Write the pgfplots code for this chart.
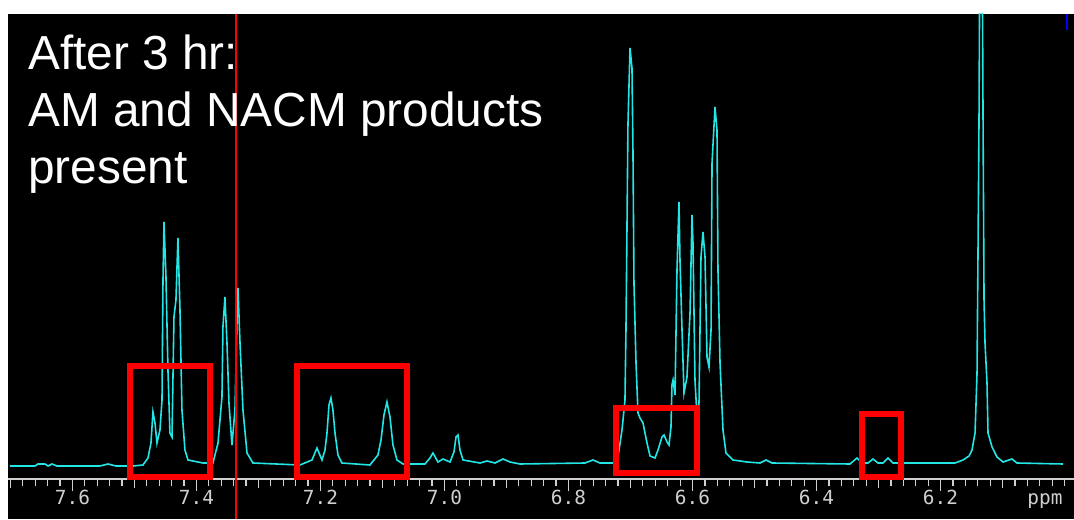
\documentclass[border=0pt]{standalone}
\usepackage{fontspec}
\setmainfont{Liberation Sans}
\setmonofont{DejaVu Sans Mono}
\usepackage{pgfplots}
\pgfplotsset{compat=1.18}
\definecolor{spec}{HTML}{22E6E6}
\definecolor{rulergray}{HTML}{D0D0D0}

\begin{document}
\begin{tikzpicture}
% page: white margin at left and top, black plot field
\fill[white] (-4pt,-20pt) rectangle (533pt,239.5pt);
\fill[black] (0pt,-20pt) rectangle (533pt,232.5pt);
\begin{axis}[
    scale only axis,
    width=533pt, height=232.5pt,
    xmin=5.9847, xmax=7.7040, x dir=reverse,
    ymin=-13, ymax=452,
    axis x line*=bottom, axis y line=none,
    x axis line style={draw=rulergray, line width=0.6pt},
    clip mode=individual,
    xtick={7.6,7.4,7.2,7.0,6.8,6.6,6.4,6.2},
    xticklabels={7.6,7.4,7.2,7.0,6.8,6.6,6.4,6.2},
    minor xtick={7.70,7.68,...,5.99},
    extra x ticks={7.7,7.5,7.3,7.1,6.9,6.7,6.5,6.3,6.1},
    extra x tick labels={},
    extra x tick style={major tick length=4.5pt},
    tick align=outside,
    major tick length=6pt, minor tick length=3.5pt,
    every tick/.style={draw=rulergray, line width=0.6pt},
    xticklabel style={text=rulergray, font=\ttfamily\fontsize{9.7}{11}\selectfont, yshift=4pt},
]
\addplot[spec, line width=0.8pt] coordinates {
(7.7008,0) (7.6605,0) (7.6557,2) (7.6444,2) (7.6395,0) (7.6330,2) (7.6250,0)
(7.5557,0) (7.5427,2) (7.5299,0) (7.5024,0) (7.4863,1) (7.4782,8) (7.4734,23)
(7.4702,54) (7.4669,43) (7.4637,23) (7.4589,36) (7.4556,66) (7.4540,186)
(7.4524,244) (7.4492,189) (7.4460,96) (7.4428,33) (7.4395,29) (7.4363,149)
(7.4331,166) (7.4299,228) (7.4266,156) (7.4234,56) (7.4186,16) (7.4137,6)
(7.3895,3) (7.3734,3) (7.3653,23) (7.3589,69) (7.3573,139) (7.3541,169)
(7.3508,123) (7.3476,63) (7.3428,21) (7.3379,56) (7.3347,143) (7.3331,178)
(7.3298,123) (7.3250,56) (7.3185,13) (7.3089,3) (7.2331,1) (7.2137,6)
(7.2057,18) (7.1976,6) (7.1927,16) (7.1895,33) (7.1863,61) (7.1831,68)
(7.1799,56) (7.1766,33) (7.1718,11) (7.1654,3) (7.1202,1) (7.1073,11)
(7.1024,26) (7.0976,51) (7.0928,64) (7.0879,49) (7.0831,21) (7.0766,6)
(7.0669,2) (7.0315,2) (7.0234,8) (7.0186,13) (7.0105,4) (7.0024,7)
(6.9911,4) (6.9847,14) (6.9814,29) (6.9782,31) (6.9750,16) (6.9701,6)
(6.9427,3) (6.9314,5) (6.9185,3) (6.9056,7) (6.8943,4) (6.8782,2)
(6.7734,3) (6.7605,6) (6.7492,3) (6.7282,3) (6.7202,9) (6.7137,36)
(6.7089,66) (6.7073,136) (6.7057,236) (6.7041,341) (6.7008,418) (6.6976,398)
(6.6960,314) (6.6944,183) (6.6911,103) (6.6879,53) (6.6847,48) (6.6798,43)
(6.6734,23) (6.6685,10) (6.6605,8) (6.6556,16) (6.6492,29) (6.6459,31)
(6.6411,24) (6.6379,21) (6.6347,39) (6.6331,81) (6.6314,86) (6.6282,71)
(6.6250,196) (6.6218,264) (6.6202,206) (6.6169,136) (6.6137,73) (6.6089,89)
(6.6040,153) (6.6008,251) (6.5992,223) (6.5960,86) (6.5927,49) (6.5895,63)
(6.5863,209) (6.5831,234) (6.5798,209) (6.5766,109) (6.5734,99) (6.5701,136)
(6.5685,303) (6.5637,359) (6.5605,336) (6.5589,196) (6.5556,103) (6.5508,36)
(6.5460,13) (6.5347,6) (6.5121,4) (6.4912,3) (6.4815,6) (6.4718,3)
(6.3460,2) (6.3347,8) (6.3266,3) (6.3169,3) (6.3089,7) (6.3008,3)
(6.2927,3) (6.2847,8) (6.2766,3) (6.1766,3) (6.1637,6) (6.1540,10)
(6.1492,16) (6.1443,33) (6.1411,93) (6.1395,216) (6.1379,346) (6.1347,766)
(6.1314,346) (6.1298,166) (6.1282,123) (6.1250,83) (6.1234,33) (6.1169,19)
(6.1089,9) (6.0992,4) (6.0847,7) (6.0766,3) (6.0024,2)
};
% annotations
\draw[red, line width=0.8pt] (axis cs:7.3363,452) -- (axis cs:7.3363,-53);
\draw[red, line width=3pt] (axis cs:7.507,100) rectangle (axis cs:7.378,-11);
\draw[red, line width=3pt] (axis cs:7.238,100) rectangle (axis cs:7.0605,-11);
\draw[red, line width=3pt] (axis cs:6.724,57.5) rectangle (axis cs:6.5935,-6.5);
\draw[red, line width=3pt] (axis cs:6.327,52) rectangle (axis cs:6.2645,-11);
\draw[blue, line width=0.8pt] (axis cs:5.996,452) -- (axis cs:5.996,436);
\node[anchor=base, text=rulergray, font=\ttfamily\fontsize{9.7}{11}\selectfont]
    at (axis cs:6.0315,-38) {ppm};
\begin{scope}[every node/.style={anchor=base west, inner sep=0pt, text=white,
    font=\fontsize{23.9}{28}\selectfont}]
\node at (axis cs:7.6718,396) {After 3 hr:};
\node at (axis cs:7.6718,339) {AM and NACM products};
\node at (axis cs:7.6718,282) {present};
\end{scope}
\end{axis}
\pgfresetboundingbox
\useasboundingbox (-4pt,-20pt) rectangle (533pt,239.5pt);
\end{tikzpicture}
\end{document}
